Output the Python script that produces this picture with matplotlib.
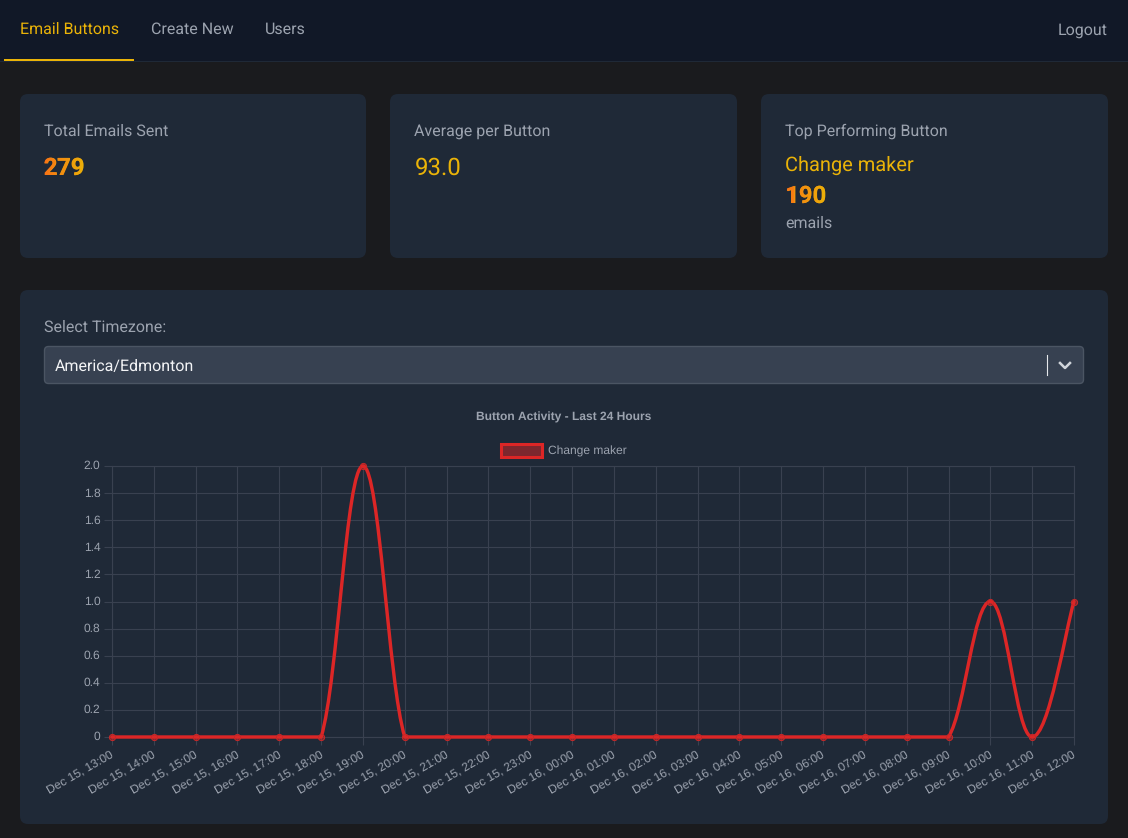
import numpy as np
from matplotlib import pyplot as plt
from matplotlib.patches import FancyBboxPatch, PathPatch, Rectangle
from matplotlib.path import Path
from matplotlib.textpath import TextPath
from matplotlib.font_manager import FontProperties
from matplotlib.colors import LinearSegmentedColormap
from matplotlib.transforms import Affine2D, ScaledTranslation

hours = ['Dec 15, 13:00', 'Dec 15, 14:00', 'Dec 15, 15:00', 'Dec 15, 16:00', 'Dec 15, 17:00', 'Dec 15, 18:00',
         'Dec 15, 19:00', 'Dec 15, 20:00', 'Dec 15, 21:00', 'Dec 15, 22:00', 'Dec 15, 23:00', 'Dec 16, 00:00',
         'Dec 16, 01:00', 'Dec 16, 02:00', 'Dec 16, 03:00', 'Dec 16, 04:00', 'Dec 16, 05:00', 'Dec 16, 06:00',
         'Dec 16, 07:00', 'Dec 16, 08:00', 'Dec 16, 09:00', 'Dec 16, 10:00', 'Dec 16, 11:00', 'Dec 16, 12:00']
counts = [0, 0, 0, 0, 0, 0, 2, 0, 0, 0, 0, 0, 0, 0, 0, 0, 0, 0, 0, 0, 0, 1, 0, 1]
y_ticks = [0, 0.2, 0.4, 0.6, 0.8, 1.0, 1.2, 1.4, 1.6, 1.8, 2.0]
y_labels = ['0', '0.2', '0.4', '0.6', '0.8', '1.0', '1.2', '1.4', '1.6', '1.8', '2.0']

W, H = 1128, 838
BODY = '#1a1b1e'
NAV = '#111827'
CARD = '#1f2937'
GRID = '#394150'
MUTED = '#9ca3af'
YELLOW = '#eab308'
RED = '#dc2626'
ROBOTO = ['Roboto', 'DejaVu Sans']
ARIAL = ['Liberation Sans', 'DejaVu Sans']
PX = 0.72  # px to pt at dpi 100

plt.rcParams['text.hinting'] = 'no_hinting'
plt.rcParams['text.hinting_factor'] = 1

fig = plt.figure(figsize=(W / 100, H / 100), dpi=100, facecolor=BODY)

# page chrome, in pixel coordinates
page = fig.add_axes([0, 0, 1, 1])
page.set_xlim(0, W)
page.set_ylim(H, 0)
page.axis('off')


def label(x, y, s, size, color=MUTED, weight='normal', ha='left'):
    page.text(x, y, s, fontsize=size * PX, color=color, fontweight=weight, ha=ha, va='baseline', family=ROBOTO)


def box(x0, y0, x1, y1, color=CARD, edge='none', r=8):
    page.add_patch(FancyBboxPatch((x0, y0), x1 - x0, y1 - y0, boxstyle='round,pad=0,rounding_size=%d' % r,
                                  facecolor=color, edgecolor=edge, linewidth=1))


def gradient_number(x, y, s, size):
    label(x, y, s, size, color='#f59e0b', weight='bold')
    fp = FontProperties(family='Roboto', weight='bold')
    tp = TextPath((0, 0), s, size=size, prop=fp)
    ext = tp.get_extents()
    cmap = LinearSegmentedColormap.from_list('g', ['#f97316', YELLOW])
    im = page.imshow(np.linspace(0, 1, 64).reshape(1, -1), cmap=cmap, aspect='auto',
                     extent=(x, x + ext.x1 + 1, y + 2, y - size), zorder=3)
    im.set_clip_path(PathPatch(tp, transform=Affine2D().translate(x, 0).scale(1, -1).translate(0, y) + page.transData))
    page.set_xlim(0, W)
    page.set_ylim(H, 0)


page.add_patch(Rectangle((0, 0), W, 61, facecolor=NAV, edgecolor='none'))
page.add_patch(Rectangle((0, 61), W, 1, facecolor=CARD, edgecolor='none'))
page.add_patch(Rectangle((4, 59), 130, 2, facecolor=YELLOW, edgecolor='none'))
label(20, 34, 'Email Buttons', 15.9, YELLOW)
label(151, 34, 'Create New', 15.9)
label(265, 34, 'Users', 16.2)
label(1107.5, 35, 'Logout', 16, ha='right')

box(20, 94, 366, 258)
box(390, 94, 737, 258)
box(761, 94, 1108, 258)
box(20, 290, 1108, 824)

label(43.5, 136, 'Total Emails Sent', 15.85)
gradient_number(43.5, 175, '279', 24)
label(414.5, 136, 'Average per Button', 15.85)
label(414.5, 175, '93.0', 24, YELLOW)
label(785, 136, 'Top Performing Button', 15.85)
label(785, 171, 'Change maker', 20, YELLOW)
gradient_number(785, 203, '190', 24)
label(785, 228, 'emails', 16)

label(43.5, 332, 'Select Timezone:', 15.85)
box(44.5, 346.5, 1083.5, 383.5, color='#374151', edge='#4b5563', r=4)
label(54.5, 370, 'America/Edmonton', 16, '#f3f4f6')
page.plot([1046.5, 1046.5], [355, 375], color='#e5e7eb', lw=0.8)
page.plot([1060, 1065, 1070], [363, 368, 363], color='#d1d5db', lw=1.8)

page.text(564, 417, 'Button Activity - Last 24 Hours', fontsize=12 * PX, fontweight='bold', color=MUTED,
          ha='center', va='center', family=ARIAL)
page.add_patch(Rectangle((501, 443.5), 41, 13, facecolor=(0.863, 0.149, 0.149, 0.5), edgecolor=RED, linewidth=2.2))
page.text(548, 451, 'Change maker', fontsize=12 * PX, color=MUTED, ha='left', va='center', family=ARIAL)

# chart
ax = fig.add_axes([112 / W, 1 - 737 / H, 962 / W, 271 / H], facecolor='none')
x = np.arange(len(counts))
y = np.array(counts, dtype=float)
ax.set_xlim(0, len(counts) - 1)
ax.set_ylim(0, 2)
ax.set_xticks(x)
ax.set_xticklabels(hours, rotation=30, ha='right', rotation_mode='anchor', family=ARIAL, fontsize=12 * PX, color=MUTED)
ax.set_yticks(y_ticks)
ax.set_yticklabels(y_labels, family=ARIAL, fontsize=12 * PX, color=MUTED)
ax.tick_params(axis='both', length=5.8, width=0.8, color=GRID, pad=2.5)
ax.grid(True, color=GRID, linewidth=0.8)
ax.set_axisbelow(True)
for s in ax.spines.values():
    s.set_color(GRID)
    s.set_linewidth(0.8)

# nudge the tick labels a little, offsets in inches
for t in ax.get_xticklabels():
    t.set_transform(t.get_transform() + ScaledTranslation(-0.02, 0, fig.dpi_scale_trans))
for t in ax.get_yticklabels():
    t.set_transform(t.get_transform() + ScaledTranslation(0, 0.01, fig.dpi_scale_trans))

# same spline the web chart uses, tension 0.4, control points capped to the chart area
verts = [(x[0], y[0])]
codes = [Path.MOVETO]
for i in range(len(x) - 1):
    prev = max(i - 1, 0)
    nxt = min(i + 2, len(x) - 1)
    c1 = (x[i] + 0.2 * (x[i + 1] - x[prev]), np.clip(y[i] + 0.2 * (y[i + 1] - y[prev]), 0, 2))
    c2 = (x[i + 1] - 0.2 * (x[nxt] - x[i]), np.clip(y[i + 1] - 0.2 * (y[nxt] - y[i]), 0, 2))
    verts += [c1, c2, (x[i + 1], y[i + 1])]
    codes += [Path.CURVE4] * 3
ax.add_patch(PathPatch(Path(verts, codes), facecolor='none', edgecolor=RED, linewidth=3.4 * PX, clip_on=False,
                       zorder=3, capstyle='round', joinstyle='round'))
ax.plot(x, y, linestyle='none', marker='o', markersize=6.2 * PX, markerfacecolor=(0.863, 0.149, 0.149, 0.5),
        markeredgecolor='#c62828', markeredgewidth=1.0 * PX, clip_on=False, zorder=4)

fig.savefig('out.png', dpi=100, facecolor=BODY)
